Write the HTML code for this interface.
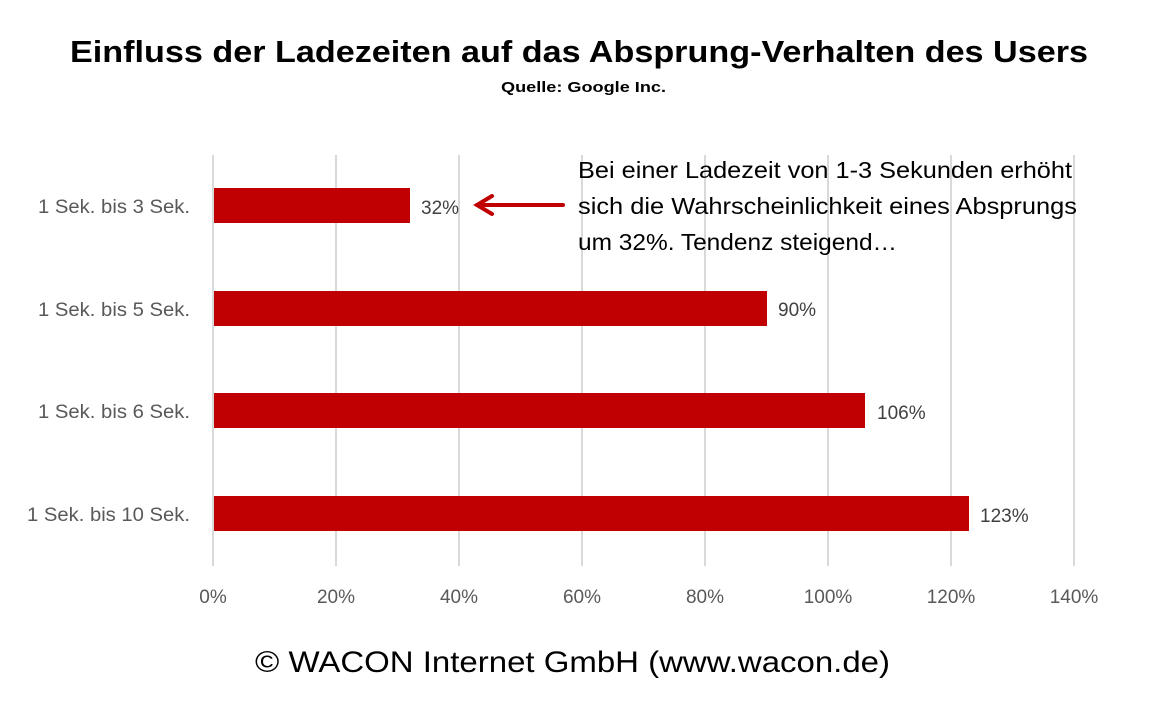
<!DOCTYPE html>
<html><head><meta charset="utf-8"><style>
html,body{margin:0;padding:0;background:#fff;}
svg{display:block;font-family:"Liberation Sans",sans-serif;}
</style></head><body>
<svg width="1170" height="721" viewBox="0 0 1170 721">
<rect width="1170" height="721" fill="#fff"/>
<text x="70" y="62" font-size="31" font-weight="bold" fill="#000" textLength="1018" lengthAdjust="spacingAndGlyphs">Einfluss der Ladezeiten auf das Absprung-Verhalten des Users</text>
<text x="501" y="92" font-size="15" font-weight="bold" fill="#000" textLength="165" lengthAdjust="spacingAndGlyphs">Quelle: Google Inc.</text>
<g stroke="#d9d9d9" stroke-width="2">
<line x1="213" y1="155" x2="213" y2="566"/>
<line x1="336" y1="155" x2="336" y2="566"/>
<line x1="459" y1="155" x2="459" y2="566"/>
<line x1="582" y1="155" x2="582" y2="566"/>
<line x1="705" y1="155" x2="705" y2="566"/>
<line x1="828" y1="155" x2="828" y2="566"/>
<line x1="951" y1="155" x2="951" y2="566"/>
<line x1="1074" y1="155" x2="1074" y2="566"/>
</g>
<g fill="#c00000">
<rect x="214" y="188" width="196" height="35"/>
<rect x="214" y="291" width="553" height="35"/>
<rect x="214" y="393" width="651" height="35"/>
<rect x="214" y="496" width="755" height="35"/>
</g>
<g font-size="19" fill="#595959">
<text x="38" y="213" textLength="152" lengthAdjust="spacingAndGlyphs">1 Sek. bis 3 Sek.</text>
<text x="38" y="316" textLength="152" lengthAdjust="spacingAndGlyphs">1 Sek. bis 5 Sek.</text>
<text x="38" y="418" textLength="152" lengthAdjust="spacingAndGlyphs">1 Sek. bis 6 Sek.</text>
<text x="27" y="521" textLength="163" lengthAdjust="spacingAndGlyphs">1 Sek. bis 10 Sek.</text>
</g>
<g font-size="19" fill="#404040">
<text x="421" y="214">32%</text>
<text x="778" y="316">90%</text>
<text x="877" y="419">106%</text>
<text x="980" y="522">123%</text>
</g>
<g font-size="19" fill="#595959" text-anchor="middle">
<text x="213" y="603">0%</text>
<text x="336" y="603">20%</text>
<text x="459" y="603">40%</text>
<text x="582" y="603">60%</text>
<text x="705" y="603">80%</text>
<text x="828" y="603">100%</text>
<text x="951" y="603">120%</text>
<text x="1074" y="603">140%</text>
</g>
<g stroke="#c00000" stroke-width="4" fill="none" stroke-linecap="round">
<line x1="563" y1="205" x2="477" y2="205"/>
<polyline points="492,196 477,205 492,214"/>
</g>
<g font-size="23" fill="#000">
<text x="578" y="178" textLength="494" lengthAdjust="spacingAndGlyphs">Bei einer Ladezeit von 1-3 Sekunden erhöht</text>
<text x="578" y="214" textLength="499" lengthAdjust="spacingAndGlyphs">sich die Wahrscheinlichkeit eines Absprungs</text>
<text x="578" y="250" textLength="319" lengthAdjust="spacingAndGlyphs">um 32%. Tendenz steigend…</text>
</g>
<text x="255" y="672" font-size="30" fill="#000" textLength="635" lengthAdjust="spacingAndGlyphs">© WACON Internet GmbH (www.wacon.de)</text>
</svg>
</body></html>
